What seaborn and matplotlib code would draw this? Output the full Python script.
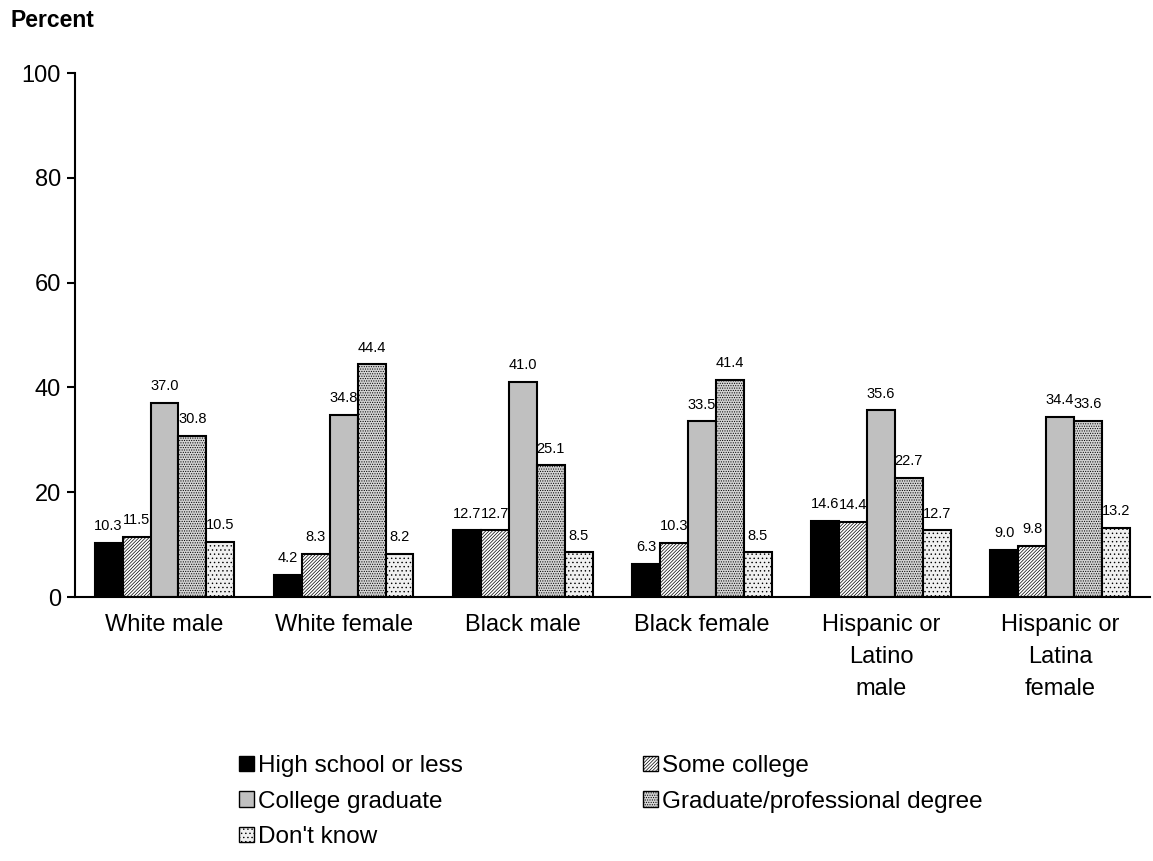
import pandas as pd
import seaborn as sns
import matplotlib.pyplot as plt
from matplotlib.patches import Patch

groups = ['White male', 'White female', 'Black male', 'Black female',
          'Hispanic or\nLatino\nmale', 'Hispanic or\nLatina\nfemale']
levels = ['High school or less', 'Some college', 'College graduate',
          'Graduate/professional degree', "Don't know"]

high_school = [10.3, 4.2, 12.7, 6.3, 14.6, 9.0]
some_college = [11.5, 8.3, 12.7, 10.3, 14.4, 9.8]
college_grad = [37.0, 34.8, 41.0, 33.5, 35.6, 34.4]
grad_degree = [30.8, 44.4, 25.1, 41.4, 22.7, 33.6]
dont_know = [10.5, 8.2, 8.5, 8.5, 12.7, 13.2]

values = [high_school, some_college, college_grad, grad_degree, dont_know]
rows = []
for lev, vals in zip(levels, values):
    for g, v in zip(groups, vals):
        rows.append({'group': g, 'level': lev, 'pct': v})
df = pd.DataFrame(rows)

sns.set_style('white')
plt.rcParams['font.family'] = ['Liberation Sans', 'DejaVu Sans']
plt.rcParams['text.color'] = 'black'
plt.rcParams['xtick.color'] = 'black'
plt.rcParams['ytick.color'] = 'black'
plt.rcParams['axes.edgecolor'] = 'black'
plt.rcParams['hatch.linewidth'] = 0.5

faces = ['black', 'white', '#c0c0c0', '#d4d4d4', '#f0f0f0']
hatches = [None, '//////////', None, '.......', '....']

fig = plt.figure(figsize=(11.53, 8.61), dpi=100)
ax = fig.add_axes([0.065, 0.3066, 0.932, 0.6086])

sns.barplot(data=df, x='group', y='pct', hue='level', order=groups,
            hue_order=levels, width=0.78, ax=ax, legend=False,
            palette=faces, saturation=1)

for cont, fc, h in zip(ax.containers, faces, hatches):
    for p in cont:
        p.set_facecolor(fc)
        p.set_edgecolor('black')
        p.set_linewidth(1.5)
        if h:
            p.set_hatch(h)
    ax.bar_label(cont, fmt='%.1f', padding=7, fontsize=10.5)

ax.set_ylim(0, 100)
ax.set_xlim(-0.5, 5.5)
ax.set_yticks([0, 20, 40, 60, 80, 100])
ax.tick_params(axis='y', labelsize=17, length=6, width=1.5, direction='out', left=True, pad=4)
ax.tick_params(axis='x', labelsize=17, length=0, pad=12)
for lab in ax.get_xticklabels():
    lab.set_verticalalignment('top')
    lab.set_linespacing(1.6)
ax.set_xlabel('')
ax.set_ylabel('')
sns.despine(ax=ax)
ax.spines['left'].set_linewidth(1.5)
ax.spines['bottom'].set_linewidth(1.5)

fig.text(0.009, 0.99, 'Percent', fontsize=16.5, fontweight='bold', va='top')

# row-major order for the two-column legend
order = [0, 2, 4, 1, 3]
handles = [Patch(facecolor=faces[i], edgecolor='black', hatch=hatches[i], linewidth=1)
           for i in order]
fig.legend(handles, [levels[i] for i in order], loc='upper left',
           bbox_to_anchor=(0.197, 0.137), ncol=2, frameon=False, fontsize=17.5,
           handlelength=0.6, handleheight=0.6, handletextpad=0.15,
           columnspacing=7.45, labelspacing=0.55, borderpad=0)

fig.savefig('out.png', dpi=100)
